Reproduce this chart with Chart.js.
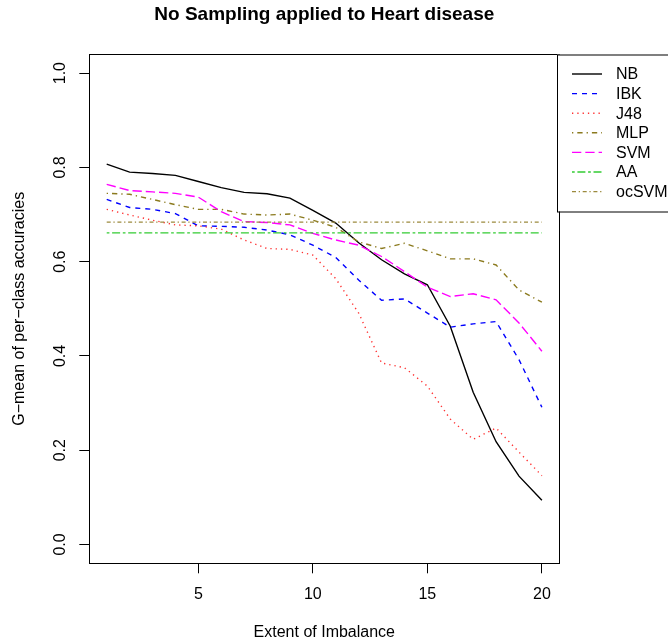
<!DOCTYPE html>
<html>
<head>
<meta charset="utf-8">
<title>No Sampling applied to Heart disease</title>
<script src="https://cdn.jsdelivr.net/npm/chart.js@4"></script>
<style>
  html, body { margin: 0; padding: 0; background: #fff; }
  canvas { display: block; }
</style>
</head>
<body>
<canvas id="chart" width="668" height="643"></canvas>
<script>
// Data
const imbalance = [1, 2, 3, 4, 5, 6, 7, 8, 9, 10, 11, 12, 13, 14, 15, 16, 17, 18, 19, 20];
const nb    = [0.807, 0.790, 0.787, 0.783, 0.770, 0.757, 0.747, 0.744, 0.735, 0.709, 0.682, 0.640, 0.604, 0.574, 0.551, 0.463, 0.323, 0.218, 0.145, 0.094];
const ibk   = [0.732, 0.715, 0.711, 0.702, 0.676, 0.675, 0.673, 0.667, 0.657, 0.635, 0.609, 0.561, 0.518, 0.521, 0.491, 0.461, 0.468, 0.473, 0.392, 0.291];
const j48   = [0.711, 0.699, 0.688, 0.678, 0.676, 0.669, 0.646, 0.628, 0.626, 0.614, 0.564, 0.491, 0.385, 0.375, 0.336, 0.266, 0.223, 0.247, 0.196, 0.146];
const mlp   = [0.745, 0.743, 0.732, 0.721, 0.711, 0.711, 0.701, 0.699, 0.701, 0.688, 0.673, 0.642, 0.628, 0.639, 0.623, 0.606, 0.606, 0.593, 0.540, 0.514];
const svm   = [0.764, 0.751, 0.748, 0.745, 0.737, 0.706, 0.685, 0.683, 0.678, 0.660, 0.646, 0.635, 0.611, 0.579, 0.546, 0.526, 0.532, 0.519, 0.470, 0.410];
const aa    = [0.661, 0.661, 0.661, 0.661, 0.661, 0.661, 0.661, 0.661, 0.661, 0.661, 0.661, 0.661, 0.661, 0.661, 0.661, 0.661, 0.661, 0.661, 0.661, 0.661];
const ocsvm = [0.684, 0.684, 0.684, 0.684, 0.684, 0.684, 0.684, 0.684, 0.684, 0.684, 0.684, 0.684, 0.684, 0.684, 0.684, 0.684, 0.684, 0.684, 0.684, 0.684];

const xTicks = [5, 10, 15, 20];
const yTicks = [0, 0.2, 0.4, 0.6, 0.8, 1.0];

// Series styles (R-like line types)
const SERIES = [
  { label: 'NB',    data: nb,    color: '#000000', dash: [] },
  { label: 'IBK',   data: ibk,   color: '#0000FF', dash: [5, 5] },
  { label: 'J48',   data: j48,   color: '#FF3030', dash: [1.3, 4] },
  { label: 'MLP',   data: mlp,   color: '#8B7A1E', dash: [1.3, 4, 5.3, 4] },
  { label: 'SVM',   data: svm,   color: '#FF00FF', dash: [9.3, 4] },
  { label: 'AA',    data: aa,    color: '#33CC33', dash: [2.7, 2.7, 8, 2.7] },
  { label: 'ocSVM', data: ocsvm, color: '#9C8A3E', dash: [4, 2.7, 1.3, 2.7] }
];

const PLOT = { left: 89.3, top: 54.3, right: 559.3, bottom: 563.3 };
const W = 668, H = 643;
const FONT = "'Liberation Sans', Arial, Helvetica, sans-serif";

Chart.defaults.font.family = FONT;
Chart.defaults.font.size = 16;
Chart.defaults.color = '#000';

// Title, box and legend drawn like base R graphics
const decorations = {
  id: 'decorations',
  afterDatasetsDraw(chart) {
    const { ctx, chartArea: a } = chart;
    ctx.save();
    ctx.strokeStyle = '#000';
    ctx.lineWidth = 1;
    ctx.setLineDash([]);
    ctx.strokeRect(Math.round(a.left) + 0.5, Math.round(a.top) + 0.5,
      Math.round(a.right - a.left), Math.round(a.bottom - a.top));

    // main title
    ctx.fillStyle = '#000';
    ctx.font = `bold 19px ${FONT}`;
    ctx.textAlign = 'center';
    ctx.textBaseline = 'middle';
    ctx.fillText('No Sampling applied to Heart disease', (a.left + a.right) / 2, 15);

    // legend box (runs off the right edge)
    const lx = 557, ly = 54.5, rowH = 19.6;
    ctx.fillStyle = '#fff';
    ctx.fillRect(lx, ly, W - lx + 10, 157);
    ctx.strokeRect(lx + 0.5, ly + 0.5, W - lx + 10, 157);
    ctx.font = `16px ${FONT}`;
    ctx.textAlign = 'left';
    SERIES.forEach((s, i) => {
      const y = 74 + i * rowH;
      ctx.strokeStyle = s.color;
      ctx.lineWidth = 1.4;
      ctx.setLineDash(s.dash);
      ctx.beginPath();
      ctx.moveTo(572, y);
      ctx.lineTo(602, y);
      ctx.stroke();
      ctx.fillStyle = '#000';
      ctx.fillText(s.label, 616, y + 1);
    });
    ctx.restore();
  }
};

new Chart(document.getElementById('chart'), {
  type: 'line',
  data: {
    datasets: SERIES.map((s, i) => ({
      label: s.label,
      data: imbalance.map((x, j) => ({ x, y: s.data[j] })),
      borderColor: s.color,
      borderWidth: 1.4,
      borderDash: s.dash,
      pointRadius: 0,
      tension: 0,
      fill: false,
      order: -i
    }))
  },
  options: {
    responsive: false,
    animation: false,
    devicePixelRatio: 1,
    layout: { padding: { top: PLOT.top, right: W - PLOT.right, left: 0, bottom: 0 } },
    plugins: { legend: { display: false }, tooltip: { enabled: false }, title: { display: false } },
    scales: {
      x: {
        type: 'linear',
        min: 0.24,
        max: 20.76,
        afterBuildTicks: scale => { scale.ticks = xTicks.map(value => ({ value })); },
        afterFit: scale => { scale.height = H - PLOT.bottom; },
        grid: { drawOnChartArea: false, drawTicks: true, tickLength: 10, color: '#000' },
        border: { display: false },
        ticks: { padding: 12, maxRotation: 0, callback: v => String(v) },
        title: { display: true, text: 'Extent of Imbalance', padding: { top: 0, bottom: 1 } }
      },
      y: {
        min: -0.04,
        max: 1.04,
        afterBuildTicks: scale => { scale.ticks = yTicks.map(value => ({ value })); },
        afterFit: scale => { scale.width = PLOT.left; },
        grid: { drawOnChartArea: false, drawTicks: true, tickLength: 10, color: '#000' },
        border: { display: false },
        ticks: { minRotation: 90, maxRotation: 90, crossAlign: 'center', padding: 8, callback: v => v.toFixed(1) },
        title: { display: true, text: 'G\u2212mean of per\u2212class accuracies', padding: { top: 10, bottom: 0 } }
      }
    }
  },
  plugins: [decorations]
});
</script>
</body>
</html>
